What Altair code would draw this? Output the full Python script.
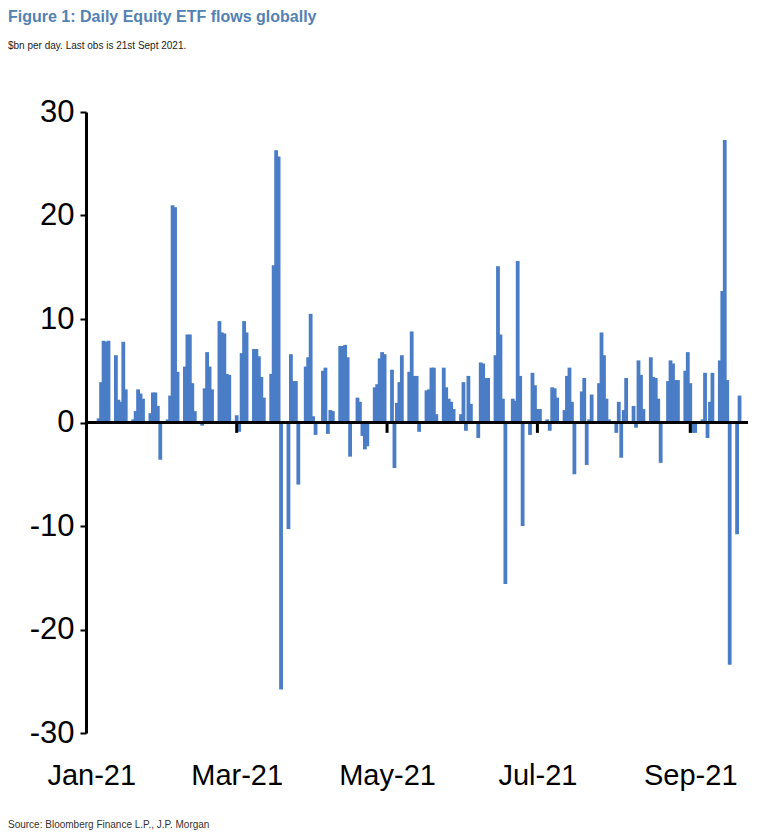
import altair as alt
import pandas as pd

title_text = "Figure 1: Daily Equity ETF flows globally"
subtitle_text = "$bn per day. Last obs is 21st Sept 2021."
source_text = "Source: Bloomberg Finance L.P., J.P. Morgan"

# Daily flows ($bn), one value per weekday
jan_vals = [0.4, 3.9, 7.9, 7.8, 7.9, 6.5, 2.2, 2.0, 7.8, 3.2, 0.3, 1.1, 3.2, 2.8, 2.3, 0.9, 2.9, 2.9, 1.6, -3.6]
feb_vals = [0.3, 2.6, 21.0, 20.8, 4.9, 5.4, 8.5, 8.5, 3.8, 1.1, -0.3, 3.3, 6.8, 5.4, 3.2, 9.8, 8.7, 8.6, 4.7, 4.6]
mar_vals = [0.7, -0.9, 6.7, 9.8, 8.7, 7.1, 7.1, 6.4, 4.4, 2.4, 4.7, 15.2, 26.3, 25.7, -25.8, -10.3, 6.6, 4.0, 4.0, -6.0, 5.4, 6.3, 10.5]
apr_vals = [0.6, -1.2, 5.0, 5.3, -1.1, 1.2, 1.1, 7.4, 7.4, 7.5, 6.3, -3.3, 2.4, 2.0, -1.3, -2.6, -2.3, 3.4, 3.7, 6.2, 6.8, 6.6]
may_vals = [5.1, -4.4, 1.9, 3.9, 6.5, 4.9, 8.8, 4.5, 4.5, -0.9, 3.1, 3.2, 5.3, 5.3, 0.8, 5.3, 3.4, 2.3, 2.0, 1.3, 0.8]
jun_vals = [3.9, -0.8, 4.5, 1.8, -1.5, 5.8, 5.7, 4.3, 4.3, 6.5, 15.1, 8.5, 2.3, -15.6, 2.3, 2.1, 15.6, 4.5, -10.0, -1.2, 4.8, 3.6]
jul_vals = [1.3, 1.3, 0.3, -0.8, 3.4, 3.3, 2.4, 1.2, 4.5, 5.3, 2.0, -5.0, 3.0, 4.3, -4.1, 0.3, 2.7, 3.8, 8.7, 6.5, 2.3, 0.3]
aug_vals = [-1.0, 2.0, -3.4, 1.2, 4.3, 1.6, -0.5, 6.0, 4.6, 1.3, 6.3, 4.4, 4.3, 2.3, -3.9, 4.0, 6.0, 5.7, 4.1, 4.1, 5.0, 6.8]
sep_vals = [3.8, -1.0, -1.0, 0.3, 4.8, -1.5, 2.0, 4.8, 6.0, 12.7, 27.3, 4.1, -23.4, -10.8, 2.6]

month_ticks = ["2021-01-01", "2021-03-01", "2021-05-01", "2021-07-01", "2021-09-01"]
month_labels = ["Jan-21", "Mar-21", "May-21", "Jul-21", "Sep-21"]
y_ticks = [-30, -20, -10, 0, 10, 20, 30]

start = pd.Timestamp("2021-01-01")
dates = pd.bdate_range("2021-01-04", "2021-09-21")
values = jan_vals + feb_vals + mar_vals + apr_vals + may_vals + jun_vals + jul_vals + aug_vals + sep_vals
df = pd.DataFrame({
    "date": dates.strftime("%Y-%m-%d"),
    "day": (dates - start).days,
    "flow": values,
})

tick_days = [(pd.Timestamp(d) - start).days for d in month_ticks]
label_expr = " : ".join(f"datum.value == {d} ? '{l}'" for d, l in zip(tick_days, month_labels)) + " : ''"

FONT = "Liberation Sans, Arial, sans-serif"
BLUE = "#4a7dc6"

x_scale = alt.Scale(domain=[-0.1, 264.4], nice=False, zero=False)
y_scale = alt.Scale(domain=[-30, 30], nice=False)

bars = alt.Chart(df).mark_bar(size=3.8, color=BLUE).encode(
    x=alt.X("day:Q", scale=x_scale,
            axis=alt.Axis(values=tick_days, labelExpr=label_expr, domain=False, ticks=False,
                          grid=False, title=None, labelFont=FONT, labelFontSize=29,
                          labelColor="black", labelPadding=28, labelFlush=False)),
    y=alt.Y("flow:Q", scale=y_scale,
            axis=alt.Axis(values=y_ticks, labelExpr="'' + datum.value", grid=False, title=None,
                          domain=True, domainColor="black", domainWidth=3, tickColor="black",
                          tickWidth=2, tickSize=6, labelFont=FONT, labelFontSize=31,
                          labelColor="black", labelPadding=6)),
    tooltip=["date:N", "flow:Q"],
)

zero_df = pd.DataFrame({"v": [0]})
zero_line = alt.Chart(zero_df).mark_rule(color="black", strokeWidth=3).encode(
    y=alt.Y("v:Q", scale=y_scale)
)

tick_df = pd.DataFrame({"day": tick_days[1:], "y0": [0] * 4, "y1": [-1] * 4})
month_marks = alt.Chart(tick_df).mark_rule(color="black", strokeWidth=3).encode(
    x=alt.X("day:Q", scale=x_scale),
    y=alt.Y("y0:Q", scale=y_scale),
    y2="y1:Q",
)

src_df = pd.DataFrame({"t": [source_text]})
footer = alt.Chart(src_df).mark_text(
    align="left", baseline="alphabetic", fontSize=10, font=FONT, color="#333333"
).encode(x=alt.value(-78), y=alt.value(716), text="t:N")

chart = alt.layer(bars, zero_line, month_marks, footer).properties(
    width=662,
    height=621,
    autosize=alt.AutoSizeParams(type="none"),
    padding={"left": 78, "top": 104, "right": 5, "bottom": 100},
    title=alt.TitleParams(
        text=title_text,
        subtitle=subtitle_text,
        anchor="start",
        frame="group",
        dx=-78,
        offset=45,
        font=FONT,
        fontSize=16,
        fontWeight="bold",
        color="#5282b3",
        subtitleFont=FONT,
        subtitleFontSize=10,
        subtitleColor="#222222",
        subtitlePadding=16,
    ),
).configure_view(stroke=None)

chart.save("out.html", embed_options={"renderer": "svg", "actions": False})
